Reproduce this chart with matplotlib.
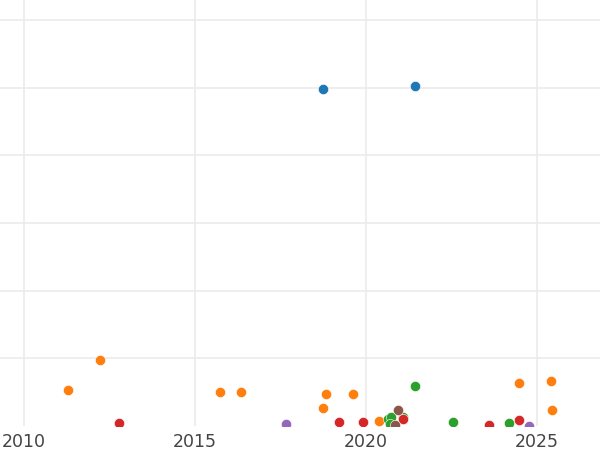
import matplotlib
matplotlib.use("Agg")
import matplotlib.pyplot as plt

# Data (x = year, y = value in grid units)
blue_x = [2018.74, 2021.43]
blue_y = [4.985, 5.03]

orange_x = [2011.30, 2012.22, 2015.74, 2016.35, 2018.84, 2018.73, 2019.63, 2020.38, 2024.47, 2025.42, 2025.44]
orange_y = [0.53, 0.98, 0.50, 0.50, 0.47, 0.26, 0.47, 0.08, 0.63, 0.66, 0.24]

green_x = [2021.43, 2022.54, 2024.17, 2020.65, 2020.72, 2021.09, 2020.70]
green_y = [0.59, 0.06, 0.04, 0.11, 0.13, 0.13, 0.03]

red_x = [2012.78, 2019.21, 2019.91, 2021.08, 2023.61, 2024.47]
red_y = [0.04, 0.06, 0.06, 0.10, 0.015, 0.09]

purple_x = [2017.66, 2024.76]
purple_y = [0.03, 0.0]

brown_x = [2020.93, 2020.85]
brown_y = [0.235, 0.015]

x_ticks = [2010, 2015, 2020, 2025]
y_grid = [1, 2, 3, 4, 5, 6]

series = [
    (blue_x, blue_y, "#1f77b4"),
    (orange_x, orange_y, "#ff7f0e"),
    (green_x, green_y, "#2ca02c"),
    (red_x, red_y, "#d62728"),
    (purple_x, purple_y, "#9467bd"),
    (brown_x, brown_y, "#8c564b"),
]

fig = plt.figure(figsize=(6, 4.5), dpi=100)
ax = fig.add_axes([0, 24 / 450, 1, 426 / 450])

for xs, ys, c in series:
    ax.scatter(xs, ys, s=54, color=c, edgecolor="white", linewidth=0.4, zorder=3)

ax.set_xlim(2010 - 24 / 34.2, 2010 + 576 / 34.2)
ax.set_ylim(0, 426 / 67.67)
ax.set_xticks(x_ticks)
ax.set_xticklabels([str(t) for t in x_ticks])
ax.set_yticks(y_grid)
ax.set_yticklabels([])
ax.grid(True, color="#ebebeb", linewidth=1.2, zorder=0)
ax.set_axisbelow(True)
for s in ax.spines.values():
    s.set_visible(False)
ax.tick_params(axis="both", length=0)
ax.tick_params(axis="x", pad=5, labelsize=12.5, labelcolor="#444444")

fig.savefig("out.png", dpi=100)
